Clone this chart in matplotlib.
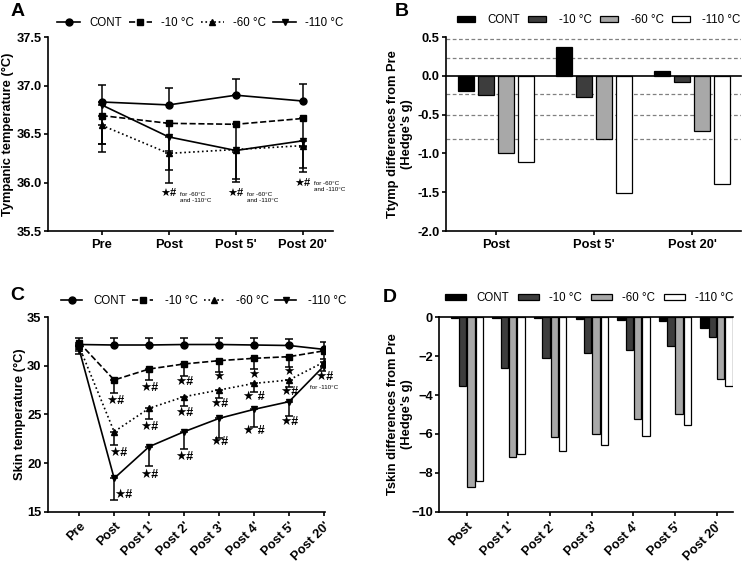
import matplotlib
matplotlib.use("Agg")
import matplotlib.pyplot as plt
import numpy as np
from matplotlib.patches import Patch

plt.rcParams["font.family"] = ["Liberation Sans", "DejaVu Sans"]

W, H = 750, 568
FS = 9.3
LEG_FS = 8.3

GROUPS = ["CONT", "-10 °C", "-60 °C", "-110 °C"]

# A: tympanic temperature (mean, SD)
tymp_times = ["Pre", "Post", "Post 5'", "Post 20'"]
tymp_cont = [36.83, 36.80, 36.90, 36.84]
tymp_m10 = [36.69, 36.61, 36.60, 36.66]
tymp_m60 = [36.59, 36.30, 36.34, 36.38]
tymp_m110 = [36.80, 36.47, 36.33, 36.43]
tymp_cont_sd = [0.18, 0.17, 0.17, 0.18]
tymp_m10_sd = [0.29, 0.29, 0.29, 0.29]
tymp_m60_sd = [0.28, 0.30, 0.30, 0.23]
tymp_m110_sd = [0.40, 0.34, 0.32, 0.32]

# B: tympanic effect sizes vs Pre (Hedge's g)
tymp_es_times = ["Post", "Post 5'", "Post 20'"]
tymp_es_cont = [-0.19, 0.37, 0.06]
tymp_es_m10 = [-0.25, -0.27, -0.08]
tymp_es_m60 = [-0.99, -0.82, -0.71]
tymp_es_m110 = [-1.11, -1.51, -1.40]
tymp_es_refs = [0.48, 0.23, -0.23, -0.5, -0.81]

# C: skin temperature (mean, SD)
skin_times = ["Pre", "Post", "Post 1'", "Post 2'", "Post 3'", "Post 4'", "Post 5'", "Post 20'"]
skin_cont = [32.2, 32.15, 32.15, 32.2, 32.2, 32.15, 32.1, 31.7]
skin_m10 = [32.4, 28.55, 29.68, 30.2, 30.54, 30.78, 30.95, 31.55]
skin_m60 = [32.0, 23.23, 25.64, 26.83, 27.52, 28.2, 28.55, 30.4]
skin_m110 = [31.7, 18.43, 21.69, 23.23, 24.6, 25.53, 26.32, 30.0]
skin_cont_sd = [0.7, 0.7, 0.7, 0.7, 0.7, 0.7, 0.7, 0.8]
skin_m10_sd = [0.5, 1.31, 1.13, 1.21, 1.2, 1.13, 1.03, 0.8]
skin_m60_sd = [0.5, 1.37, 1.14, 0.96, 0.86, 0.85, 0.75, 0.5]
skin_m110_sd = [0.5, 2.23, 1.99, 1.78, 2.05, 1.85, 1.47, 0.5]

# D: skin effect sizes vs Pre (Hedge's g)
skin_es_times = ["Post", "Post 1'", "Post 2'", "Post 3'", "Post 4'", "Post 5'", "Post 20'"]
skin_es_cont = [-0.02, -0.02, -0.03, -0.09, -0.12, -0.17, -0.57]
skin_es_m10 = [-3.55, -2.61, -2.11, -1.85, -1.68, -1.46, -1.03]
skin_es_m60 = [-8.75, -7.17, -6.17, -6.0, -5.23, -4.97, -3.17]
skin_es_m110 = [-8.44, -7.03, -6.9, -6.55, -6.09, -5.54, -3.55]

LINE_STYLES = [("o", "-"), ("s", "--"), ("^", ":"), ("v", "-")]
BAR_COLORS = ["#000000", "#3d3d3d", "#a8a8a8", "#ffffff"]


def px_axes(fig, left, top, right, bottom):
    return fig.add_axes([left / W, 1 - bottom / H, (right - left) / W, (bottom - top) / H])


def style_axes(ax):
    for side in ("top", "right"):
        ax.spines[side].set_visible(False)
    for side in ("left", "bottom"):
        ax.spines[side].set_linewidth(1.2)
    ax.tick_params(direction="out", length=3, width=1.2, labelsize=FS, pad=1.5)
    ax.tick_params(axis="x", pad=3)
    for lab in ax.get_xticklabels() + ax.get_yticklabels():
        lab.set_fontweight("bold")


def line_panel(ax, times, series, sds, ms):
    x = np.arange(len(times))
    handles = []
    for i, (vals, sd) in enumerate(zip(series, sds)):
        marker, ls = LINE_STYLES[i]
        vals = np.asarray(vals)
        sd = np.asarray(sd)
        zero = np.zeros_like(sd)
        yerr = [zero, sd] if i == 0 else [sd, zero]
        ax.errorbar(x, vals, yerr=yerr, fmt="none", ecolor="black",
                    elinewidth=1.1, capsize=3, capthick=1.1, zorder=2)
        (h,) = ax.plot(x, vals, color="black", ls=ls, lw=1.2, marker=marker,
                       ms=ms, zorder=3)
        handles.append(h)
    ax.set_xticks(x)
    return handles


def bar_panel(ax, times, series, width=0.164, pitch=0.205):
    x = np.arange(len(times))
    handles = []
    for i, vals in enumerate(series):
        off = (i - 1.5) * pitch
        ax.bar(x + off, vals, width=width, color=BAR_COLORS[i],
               edgecolor="black", linewidth=0.9, zorder=3)
        handles.append(Patch(facecolor=BAR_COLORS[i], edgecolor="black", linewidth=0.9))
    ax.axhline(0, color="black", lw=1.2, zorder=4, clip_on=False)
    ax.set_xticks(x)
    return handles


def add_legend(ax, handles, x, y, **kw):
    ax.legend(handles, GROUPS, ncol=4, loc="center left",
              bbox_to_anchor=(x / W, 1 - y / H), bbox_transform=ax.figure.transFigure,
              frameon=False, borderpad=0, borderaxespad=0, fontsize=LEG_FS, **kw)


fig = plt.figure(figsize=(W / 100, H / 100), dpi=100)

# ---- A
axA = px_axes(fig, 48, 37, 333, 231)
hA = line_panel(axA, tymp_times, [tymp_cont, tymp_m10, tymp_m60, tymp_m110],
                [tymp_cont_sd, tymp_m10_sd, tymp_m60_sd, tymp_m110_sd], ms=5)
axA.set_xticklabels(tymp_times)
axA.set_xlim(-0.8, 3.45)
axA.set_ylim(35.5, 37.5)
axA.set_yticks([35.5, 36.0, 36.5, 37.0, 37.5])
axA.set_yticklabels(["35.5", "36.0", "36.5", "37.0", "37.5"])
axA.set_ylabel("Tympanic temperature (°C)", fontsize=FS, fontweight="bold")
axA.yaxis.set_label_coords(-0.118, 0.5)
style_axes(axA)
add_legend(axA, hA, 57, 23, handlelength=2.0, handletextpad=0.8, columnspacing=0.6)
for xi, yi in [(1, 35.89), (2, 35.89), (3, 36.0)]:
    axA.text(xi, yi, "★#", ha="center", va="center", fontsize=8, fontweight="bold")
    axA.annotate("for -60°C\nand -110°C", (xi, yi), xytext=(8, -3), textcoords="offset points",
                 ha="left", va="center", fontsize=4.5, linespacing=1.3)

# ---- B
axB = px_axes(fig, 446, 37, 741, 231)
hB = bar_panel(axB, tymp_es_times, [tymp_es_cont, tymp_es_m10, tymp_es_m60, tymp_es_m110])
for r in tymp_es_refs:
    axB.axhline(r, color="#808080", lw=0.9, ls=(0, (3, 2)), zorder=1)
axB.set_xticklabels(tymp_es_times)
axB.set_xlim(-0.51, 2.5)
axB.set_ylim(-2.0, 0.5)
axB.set_yticks([-2.0, -1.5, -1.0, -0.5, 0.0, 0.5])
axB.set_yticklabels(["-2.0", "-1.5", "-1.0", "-0.5", "0.0", "0.5"])
axB.set_ylabel("Ttymp differences from Pre\n(Hedge's g)", fontsize=FS, fontweight="bold")
axB.yaxis.set_label_coords(-0.112, 0.5)
style_axes(axB)
add_legend(axB, hB, 457, 20, handlelength=1.56, handleheight=0.52,
           handletextpad=1.1, columnspacing=0.7)

# ---- C
axC = px_axes(fig, 47.7, 317.3, 324.7, 511.7)
hC = line_panel(axC, skin_times, [skin_cont, skin_m10, skin_m60, skin_m110],
                [skin_cont_sd, skin_m10_sd, skin_m60_sd, skin_m110_sd], ms=5)
axC.set_xticklabels(skin_times, rotation=45, ha="right", rotation_mode="anchor")
axC.set_xlim(-0.9, 7.02)
axC.set_ylim(15, 35)
axC.set_yticks([15, 20, 25, 30, 35])
axC.set_ylabel("Skin temperature (°C)", fontsize=FS, fontweight="bold")
axC.yaxis.set_label_coords(-0.08, 0.5)
style_axes(axC)
add_legend(axC, hC, 61, 301, handlelength=1.83, handletextpad=1.0, columnspacing=0.52)
skin_marks = [
    (1.03, 26.39, "★#"), (1.11, 21.04, "★#"), (1.26, 16.75, "★#"),
    (2, 27.73, "★#"), (2, 23.71, "★#"), (2, 18.78, "★#"),
    (3, 28.34, "★#"), (3, 25.15, "★#"), (3, 20.66, "★#"),
    (4, 28.86, "★"), (4, 26.08, "★#"), (4, 22.2, "★#"),
    (5, 29.06, "★"), (5, 26.8, "★ #"), (5, 23.33, "★ #"),
    (6, 29.34, "★"), (6, 27.35, "★#"), (6, 24.2, "★#"),
    (7, 28.85, "★#"),
]
for xi, yi, s in skin_marks:
    axC.text(xi, yi, s, ha="center", va="center", fontsize=9, fontweight="bold")
axC.text(7, 27.75, "for -110°C", ha="center", va="center", fontsize=4.5)

# ---- D
axD = px_axes(fig, 439.3, 317.3, 733.3, 511.7)
hD = bar_panel(axD, skin_es_times, [skin_es_cont, skin_es_m10, skin_es_m60, skin_es_m110],
               width=0.176, pitch=0.2)
axD.set_xticklabels(skin_es_times, rotation=45, ha="right", rotation_mode="anchor")
axD.set_xlim(-0.66, 6.4)
axD.set_ylim(-10, 0)
axD.set_yticks([-10, -8, -6, -4, -2, 0])
axD.set_ylabel("Tskin differences from Pre\n(Hedge's g)", fontsize=FS, fontweight="bold")
axD.yaxis.set_label_coords(-0.09, 0.5)
style_axes(axD)
add_legend(axD, hD, 445, 298, handlelength=1.83, handleheight=0.52,
           handletextpad=0.87, columnspacing=0.78)

for letter, x, y in [("A", 18, 12), ("B", 402, 11), ("C", 17, 295), ("D", 390, 297)]:
    fig.text(x / W, 1 - y / H, letter, ha="center", va="center", fontsize=14, fontweight="bold")

fig.savefig("out.png", dpi=100)
